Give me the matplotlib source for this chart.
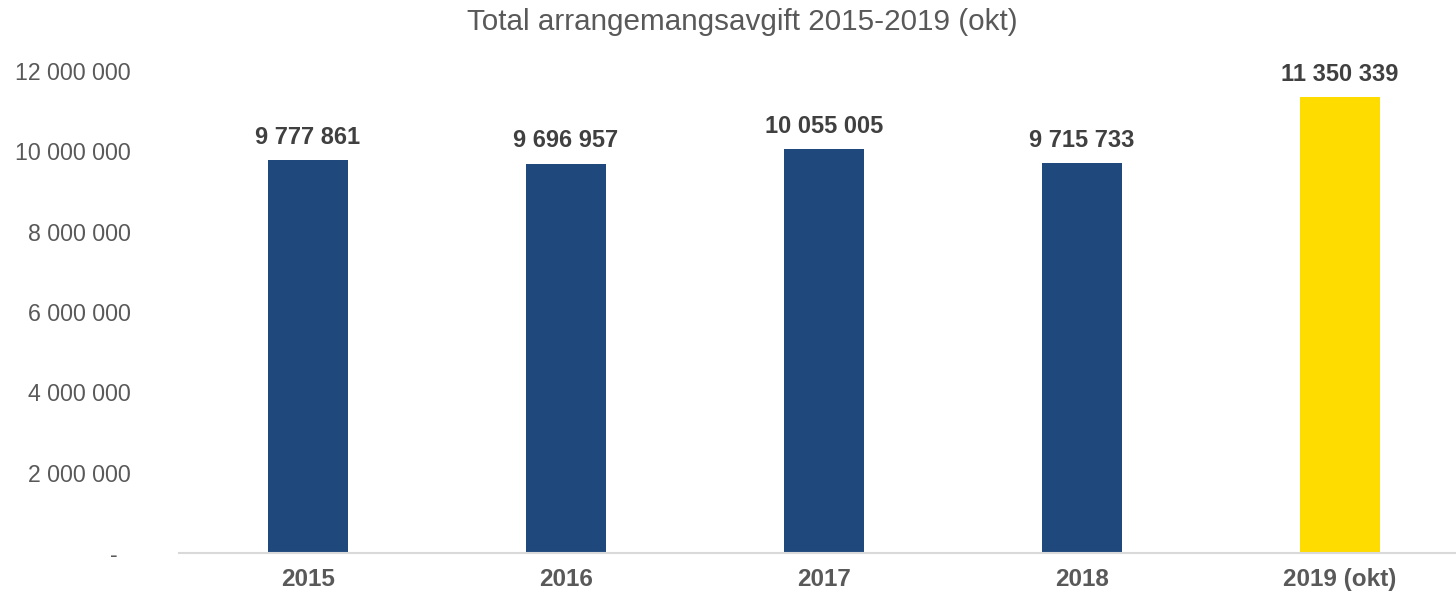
import matplotlib
matplotlib.use("Agg")
import matplotlib.pyplot as plt
from matplotlib.ticker import FuncFormatter

categories = ["2015", "2016", "2017", "2018", "2019 (okt)"]
values = [9777861, 9696957, 10055005, 9715733, 11350339]
colors = ["#1F497D", "#1F497D", "#1F497D", "#1F497D", "#FFDC00"]
title = "Total arrangemangsavgift 2015-2019 (okt)"

plt.rcParams['font.family'] = ['Liberation Sans', 'DejaVu Sans']

fig = plt.figure(figsize=(14.56, 5.95), dpi=100)
ax = fig.add_axes([179/1456, 1-553/595, 1290/1456, (553-71)/595])

x = list(range(len(categories)))
ax.bar(x, values, width=0.31, color=colors, zorder=2)
ax.set_xlim(-0.5, len(categories) - 0.5)
ax.set_ylim(0, 12000000)
ax.set_yticks(range(0, 12000001, 2000000))

def fmt(v, pos=None):
    v = int(round(v))
    if v == 0:
        return "-  "
    return f"{v:,}".replace(",", " ")

ax.yaxis.set_major_formatter(FuncFormatter(fmt))
ax.set_xticks(x)
ax.set_xticklabels(categories, fontsize=17.5, fontweight='bold', color='#595959')
ax.tick_params(axis='y', labelsize=16.7, colors='#595959', length=0, pad=35)
ax.tick_params(axis='x', length=0, pad=11)
for lab in ax.get_yticklabels():
    lab.set_horizontalalignment('right')

for s in ['top', 'right', 'left']:
    ax.spines[s].set_visible(False)
ax.spines['bottom'].set_color('#D9D9D9')
ax.spines['bottom'].set_linewidth(1.5)

for xi, v in zip(x, values):
    ax.annotate(fmt(v), (xi, v), xytext=(0, 8), textcoords='offset points',
                ha='center', va='bottom', fontsize=17, fontweight='bold', color='#404040')

fig.text(742/1456, 1-22/595, title, ha='center', va='center', fontsize=21.3, color='#595959')

fig.savefig("out.png", dpi=100)
